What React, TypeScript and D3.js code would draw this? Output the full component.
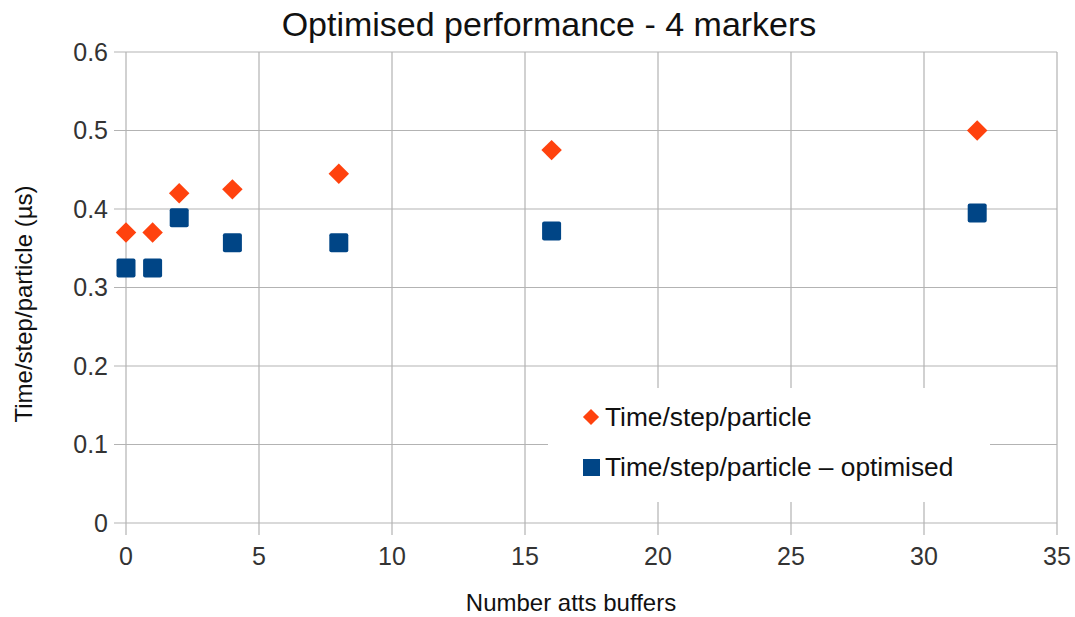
import React, { useEffect, useRef } from 'react';
import * as d3 from 'd3';

// buffers on the x axis
const buffers = [0, 1, 2, 4, 8, 16, 32];
const timePerParticle = [0.37, 0.37, 0.42, 0.425, 0.445, 0.475, 0.5];
const timeOptimised = [0.325, 0.325, 0.389, 0.357, 0.357, 0.372, 0.395];
const xTicks = [0, 5, 10, 15, 20, 25, 30, 35];
const yTicks = [0, 0.1, 0.2, 0.3, 0.4, 0.5, 0.6];
const seriesNames = ['Time/step/particle', 'Time/step/particle \u2013 optimised'];

const App: React.FC = () => {
  const ref = useRef<SVGSVGElement | null>(null);

  useEffect(() => {
    if (!ref.current) return;
    const W = 1075;
    const H = 617;
    const m = { top: 52, right: 18, bottom: 94, left: 126 };
    const width = W - m.left - m.right;
    const height = H - m.top - m.bottom;
    const font = '"Liberation Sans", Arial, sans-serif';

    const svg = d3.select(ref.current);
    svg.selectAll('*').remove();
    svg.attr('width', W).attr('height', H).style('font-family', font);

    svg.append('rect').attr('width', W).attr('height', H).attr('fill', 'white');

    const g = svg.append('g').attr('transform', `translate(${m.left},${m.top})`);

    const x = d3.scaleLinear().domain([0, 35]).range([0, width]);
    const y = d3.scaleLinear().domain([0, 0.6]).range([height, 0]);

    // grid
    g.selectAll('.hgrid')
      .data(yTicks)
      .enter().append('line')
      .attr('x1', -12)
      .attr('x2', width)
      .attr('y1', d => y(d))
      .attr('y2', d => y(d))
      .attr('stroke', '#b3b3b3')
      .attr('stroke-width', 1.2);

    g.selectAll('.vgrid')
      .data(xTicks)
      .enter().append('line')
      .attr('x1', d => x(d))
      .attr('x2', d => x(d))
      .attr('y1', 0)
      .attr('y2', height + 12)
      .attr('stroke', '#b3b3b3')
      .attr('stroke-width', 1.2);

    // tick labels
    g.selectAll('.ylab')
      .data(yTicks)
      .enter().append('text')
      .attr('x', -18)
      .attr('y', d => y(d))
      .attr('dy', '0.35em')
      .attr('text-anchor', 'end')
      .attr('font-size', 25)
      .attr('fill', '#333')
      .text(d => d3.format('~g')(d));

    g.selectAll('.xlab')
      .data(xTicks)
      .enter().append('text')
      .attr('x', d => x(d))
      .attr('y', height + 42)
      .attr('text-anchor', 'middle')
      .attr('font-size', 25)
      .attr('fill', '#333')
      .text(d => String(d));

    // legend box (covers the grid)
    const legend = svg.append('g').attr('transform', 'translate(548,388)');
    legend.append('rect').attr('width', 442).attr('height', 114).attr('fill', 'white');

    const diamond = d3.symbol().type(d3.symbolSquare).size(210);

    // series 1: diamonds
    g.selectAll('.s1')
      .data(buffers)
      .enter().append('path')
      .attr('d', diamond)
      .attr('transform', (d, i) => `translate(${x(d)},${y(timePerParticle[i])}) rotate(45)`)
      .attr('fill', '#ff420e');

    // series 2: squares
    g.selectAll('.s2')
      .data(buffers)
      .enter().append('rect')
      .attr('x', d => x(d) - 9.5)
      .attr('y', (d, i) => y(timeOptimised[i]) - 9.5)
      .attr('width', 19)
      .attr('height', 19)
      .attr('rx', 2)
      .attr('fill', '#004586');

    legend.append('path')
      .attr('d', d3.symbol().type(d3.symbolSquare).size(130))
      .attr('transform', 'translate(43,29) rotate(45)')
      .attr('fill', '#ff420e');
    legend.append('rect')
      .attr('x', 35).attr('y', 71).attr('width', 17).attr('height', 17)
      .attr('fill', '#004586');
    legend.selectAll('.lt')
      .data(seriesNames)
      .enter().append('text')
      .attr('x', 57)
      .attr('y', (d, i) => 29 + i * 50)
      .attr('dy', '0.35em')
      .attr('font-size', 26.3)
      .attr('fill', '#111')
      .text(d => d);

    // title
    svg.append('text')
      .attr('x', 549)
      .attr('y', 36)
      .attr('text-anchor', 'middle')
      .attr('font-size', 34)
      .attr('fill', '#111')
      .text('Optimised performance - 4 markers');

    // axis titles
    svg.append('text')
      .attr('x', 571)
      .attr('y', 611)
      .attr('text-anchor', 'middle')
      .attr('font-size', 24)
      .attr('fill', '#111')
      .text('Number atts buffers');

    svg.append('text')
      .attr('transform', 'translate(32,304) rotate(-90)')
      .attr('text-anchor', 'middle')
      .attr('font-size', 24)
      .attr('fill', '#111')
      .text('Time/step/particle (\u00b5s)');
  }, []);

  return <svg ref={ref} style={{ display: 'block', position: 'absolute', left: 0, top: 0 }}></svg>;
};

export default App;
